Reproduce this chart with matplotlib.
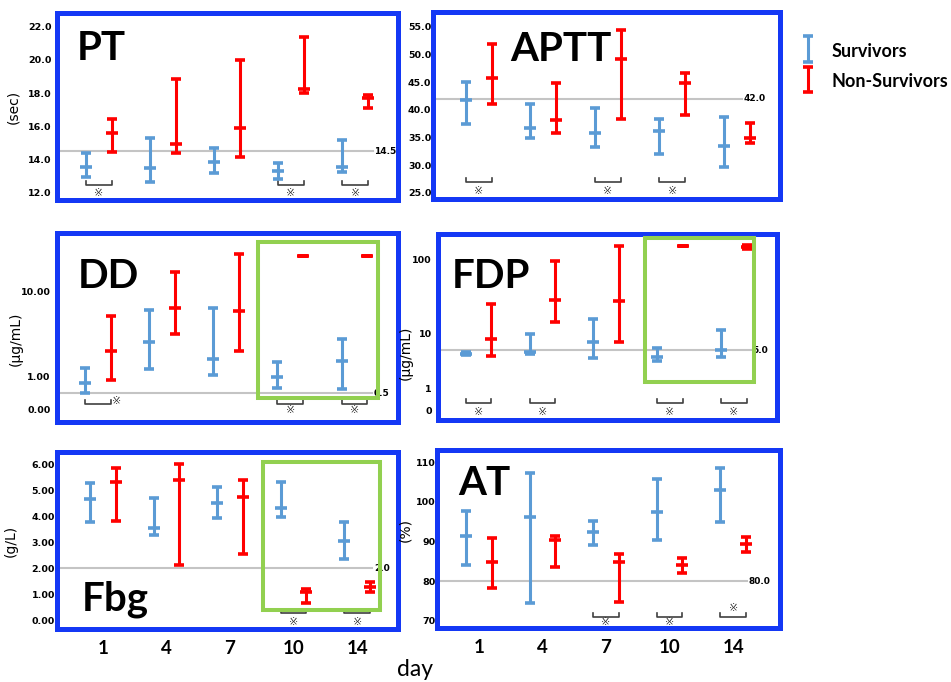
import numpy as np
import matplotlib
matplotlib.use('Agg')
import matplotlib.pyplot as plt
from matplotlib.patches import Rectangle
from matplotlib.container import ErrorbarContainer
from matplotlib.legend_handler import HandlerErrorbar


# ---------------------------------------------------
# DATA  (low, mean, high) per day
# ---------------------------------------------------
DAYS = ['1', '4', '7', '10', '14']

PT_SURV = [(12.96, 13.57, 14.37), (12.66, 13.51, 15.31), (13.17, 13.83, 14.67), (12.81, 13.33, 13.81), (13.27, 13.57, 15.17)]
PT_NS = [(14.45, 15.61, 16.42), (14.41, 14.93, 18.83), (14.13, 15.88, 19.99), (17.99, 18.25, 21.36), (17.08, 17.69, 17.89)]

APTT_SURV = [(37.41, 41.75, 45.06), (34.94, 36.64, 41.03), (33.31, 35.85, 40.25), (32.0, 36.2, 38.26), (29.59, 33.49, 38.74)]
APTT_NS = [(40.98, 45.67, 51.82), (35.73, 38.14, 44.77), (38.32, 49.16, 54.53), (39.04, 44.77, 46.69), (33.93, 34.94, 37.65)]

DD_SURV = [(0.51, 0.81, 1.29), (1.23, 2.56, 6.14), (1.06, 1.62, 6.43), (0.66, 1.0, 1.51), (0.64, 1.56, 2.8)]
DD_NS = [(0.91, 2.02, 5.26), (3.2, 6.53, 17.3), (2.02, 6.03, 27.8), (26.7, 26.7, 26.7), (26.7, 26.7, 26.7)]

FDP_SURV = [(4.0, 4.3, 4.6), (4.2, 4.6, 9.7), (3.6, 6.86, 15.5), (3.13, 3.66, 5.34), (3.66, 4.97, 11.1)]
FDP_NS = [(3.9, 7.78, 24.9), (14.1, 28.2, 94.8), (6.86, 27.6, 152.8), (152.8, 152.8, 152.8), (140.0, 148.0, 156.0)]

FBG_SURV = [(3.79, 4.66, 5.26), (3.28, 3.56, 4.69), (3.92, 4.52, 5.13), (3.98, 4.30, 5.32), (2.36, 3.05, 3.79)]
FBG_NS = [(3.83, 5.32, 5.86), (2.13, 5.39, 5.99), (2.54, 4.72, 5.39), (0.66, 1.11, 1.2), (1.11, 1.30, 1.49)]

AT_SURV = [(84.1, 91.5, 97.6), (74.5, 96.3, 107.2), (89.2, 92.35, 95.2), (90.4, 97.55, 105.7), (95.0, 103.0, 108.5)]
AT_NS = [(78.4, 84.8, 90.8), (83.7, 90.4, 91.5), (74.9, 84.95, 86.9), (82.0, 84.1, 85.8), (87.3, 89.3, 91.1)]

PT_YTICKS = [12, 14, 16, 18, 20, 22]
APTT_YTICKS = [25, 30, 35, 40, 45, 50, 55]
DD_YTICKS = [0, 1, 10]
DD_YLABELS = ['0.00', '1.00', '10.00']
FDP_YTICKS = [0, 1, 10, 100]
FDP_YLABELS = ['0', '1', '10', '100']
FBG_YTICKS = [0, 1, 2, 3, 4, 5, 6]
AT_YTICKS = [70, 80, 90, 100, 110]

# ---------------------------------------------------
# STYLE / LAYOUT
# ---------------------------------------------------
W, H = 951, 682
BLUE_FRAME = '#1438f5'
SURV_COLOR = '#5b9bd5'
NS_COLOR = '#ff0000'
GREEN = '#92d050'
REF_GREY = '#c4c4c4'
TICK_FONT = dict(family='DejaVu Sans', fontweight='bold', fontsize=6.8)
STAR_FAMILY = ['DejaVu Sans', 'Noto Sans CJK JP']


def fx(px):
    return px / W


def fy(px):
    return 1 - px / H


def make_scale(lin_px, dec_px):
    # 0..1 linear, then every decade with its own length (as the original axis)
    u_k = [-10.0, 0.0, 1.0]
    p_k = [-10.0 * lin_px, 0.0, lin_px]
    for d in dec_px:
        u_k.append(u_k[-1] + 1)
        p_k.append(p_k[-1] + d)
    u_k.append(u_k[-1] + 10)
    p_k.append(p_k[-1] + 10 * dec_px[-1])
    u_k, p_k = np.array(u_k), np.array(p_k)

    def forward(v):
        v = np.asarray(v, dtype=float)
        u = np.where(v <= 1, v, 1 + np.log10(np.maximum(v, 1)))
        return np.interp(u, u_k, p_k)

    def inverse(p):
        u = np.interp(np.asarray(p, dtype=float), p_k, u_k)
        return np.where(u <= 1, u, 10 ** (np.minimum(u, 12) - 1))

    return forward, inverse


PANELS = [
    dict(name='PT', surv=PT_SURV, ns=PT_NS, box=(57, 13, 398, 200), xlim=(-0.651, 4.667),
         ylim=(11.56, 22.83), yticks=PT_YTICKS, ylabels=['%.1f' % t for t in PT_YTICKS], ypad=4,
         ref=14.5, ref_label='14.5', ref_end=0.927, ylabel='(sec)', ylabel_xy=(-0.108, 0.5),
         title_xy=(77, 60), brackets=[0, 3, 4], bracket_y=0.08,
         stars=[(0, 0, 0.037), (3, 0, 0.037), (4, 0, 0.037)], xlabels=False),
    dict(name='APTT', surv=APTT_SURV, ns=APTT_NS, box=(433.4, 12, 779.5, 199), xlim=(-0.707, 4.665),
         ylim=(23.86, 57.7), yticks=APTT_YTICKS, ylabels=['%.1f' % t for t in APTT_YTICKS], ypad=1.5,
         ref=42.0, ref_label='42.0', ref_end=0.893, ylabel=None, ylabel_xy=None,
         title_xy=(510, 61), brackets=[0, 2, 3], bracket_y=0.089,
         stars=[(0, 0, 0.044), (2, 0, 0.044), (3, 0, 0.044)], xlabels=False),
    dict(name='DD', surv=DD_SURV, ns=DD_NS, box=(57, 233, 398, 422), xlim=(-0.634, 4.68),
         ylim=(-0.364, 49.4), yticks=DD_YTICKS, ylabels=DD_YLABELS, ypad=4.5, scale=(33, [85]),
         ref=0.5, ref_label='0.5', ref_end=0.925, ylabel='(μg/mL)', ylabel_xy=(-0.1, 0.44),
         title_xy=(78, 288), brackets=[0, 3, 4], bracket_y=0.095,
         stars=[(0, 0.30, 0.111), (3, 0, 0.063), (4, 0, 0.063)], xlabels=False),
    dict(name='FDP', surv=FDP_SURV, ns=FDP_NS, box=(437.5, 233.5, 776.7, 420), xlim=(-0.641, 4.669),
         ylim=(-0.46, 226), yticks=FDP_YTICKS, ylabels=FDP_YLABELS, ypad=4, scale=(21.7, [55, 74]),
         ref=5.0, ref_label='5.0', ref_end=0.925, ylabel='(μg/mL)', ylabel_xy=(-0.073, 0.36),
         title_xy=(452, 288), brackets=[0, 1, 3, 4], bracket_y=0.093,
         stars=[(0, 0, 0.043), (1, 0, 0.043), (3, 0, 0.043), (4, 0, 0.043)], xlabels=False),
    dict(name='Fbg', surv=FBG_SURV, ns=FBG_NS, box=(57, 452, 398, 629), xlim=(-0.721, 4.642),
         ylim=(-0.32, 6.46), yticks=FBG_YTICKS, ylabels=['%.2f' % t for t in FBG_YTICKS], ypad=1.5,
         ref=2.0, ref_label='2.0', ref_end=0.925, ylabel='(g/L)', ylabel_xy=(-0.114, 0.5),
         title_xy=(82, 610), brackets=[3, 4], bracket_y=0.09,
         stars=[(3, 0, 0.04), (4, 0, 0.04)], xlabels=True),
    dict(name='AT', surv=AT_SURV, ns=AT_NS, box=(436.7, 450, 780, 628), xlim=(-0.663, 4.737),
         ylim=(68.23, 113.1), yticks=AT_YTICKS, ylabels=[str(t) for t in AT_YTICKS], ypad=0.8,
         ref=80.0, ref_label='80.0', ref_end=0.904, ylabel='(%)', ylabel_xy=(-0.07, 0.55),
         title_xy=(458, 495), brackets=[2, 3, 4], bracket_y=0.064,
         stars=[(2, 0, 0.034), (3, 0, 0.034), (4, 0, 0.112)], xlabels=True),
]

GREEN_BOXES = [(258, 242, 378, 398), (645, 238, 754, 382), (263, 462, 380, 610)]


def draw_panel(fig, p):
    x0, y0, x1, y1 = p['box']
    ax = fig.add_axes([fx(x0), fy(y1), (x1 - x0) / W, (y1 - y0) / H])
    if 'scale' in p:
        ax.set_yscale('function', functions=make_scale(*p['scale']))

    x = np.arange(len(DAYS))
    handles = []
    for vals, off, color, label in ((p['surv'], -0.2, SURV_COLOR, 'Survivors'),
                                    (p['ns'], 0.2, NS_COLOR, 'Non-Survivors')):
        lo, mid, hi = np.array(vals).T
        eb = ax.errorbar(x + off, mid, yerr=[mid - lo, hi - mid], fmt='none', ecolor=color,
                         elinewidth=2.2, capsize=3.3, capthick=2.6, zorder=3, label=label)
        ax.plot(x + off, mid, ls='none', marker='_', ms=8, mew=2.6, color=color, zorder=4)
        handles.append(eb)

    # reference line
    ax.axhline(p['ref'], xmin=0, xmax=p['ref_end'], color=REF_GREY, lw=1.5, zorder=1)
    ax.text(p['ref_end'] + 0.004, p['ref'], p['ref_label'], transform=ax.get_yaxis_transform(),
            ha='left', va='center', fontsize=6.5, fontweight='bold')

    # significance brackets
    trans = ax.get_xaxis_transform()
    by = p['bracket_y']
    for d in p['brackets']:
        ax.plot([d - 0.2, d - 0.2, d + 0.2, d + 0.2], [by + 0.022, by, by, by + 0.022],
                color='#404040', lw=1.2, transform=trans, clip_on=False, zorder=2)
    for d, dx, sy in p['stars']:
        ax.text(d + dx, sy, '※', transform=trans, ha='center', va='center', fontsize=8,
                family=STAR_FAMILY, color='#333333')

    ax.set_xlim(*p['xlim'])
    ax.set_ylim(*p['ylim'])
    ax.set_yticks(p['yticks'])
    ax.set_yticklabels(p['ylabels'], **TICK_FONT)
    ax.yaxis.set_minor_locator(matplotlib.ticker.NullLocator())
    ax.tick_params(axis='y', length=0, pad=p['ypad'])
    if p['xlabels']:
        ax.set_xticks(x)
        ax.set_xticklabels(DAYS, family='Lato', fontweight='bold', fontsize=13.5)
        ax.tick_params(axis='x', length=0, pad=8)
    else:
        ax.set_xticks([])

    for sp in ax.spines.values():
        sp.set_color(BLUE_FRAME)
        sp.set_linewidth(3.6)
        sp.set_zorder(5)

    if p['ylabel']:
        ax.set_ylabel(p['ylabel'], fontsize=10)
        ax.yaxis.set_label_coords(*p['ylabel_xy'])

    fig.text(fx(p['title_xy'][0]), fy(p['title_xy'][1]), p['name'], family='Lato',
             fontweight='bold', fontsize=29, ha='left', va='baseline')
    return handles


def main():
    fig = plt.figure(figsize=(W / 100, H / 100), dpi=100)

    handles = None
    for p in PANELS:
        h = draw_panel(fig, p)
        if handles is None:
            handles = h

    for bx0, by0, bx1, by1 in GREEN_BOXES:
        fig.add_artist(Rectangle((fx(bx0), fy(by1)), (bx1 - bx0) / W, (by1 - by0) / H,
                                 transform=fig.transFigure, fill=False, ec=GREEN, lw=2.9, zorder=10))

    fig.legend(handles, ['Survivors', 'Non-Survivors'], loc='center left',
               bbox_to_anchor=(fx(799), fy(66)), frameon=False,
               prop=dict(family='Lato', weight='bold', size=13),
               handlelength=1.0, handleheight=1.3, handletextpad=0.8, labelspacing=0.59,
               borderpad=0, borderaxespad=0,
               handler_map={ErrorbarContainer: HandlerErrorbar(yerr_size=0.7)})

    fig.text(fx(415), fy(676), 'day', family='Lato', fontsize=16.5, ha='center', va='baseline')

    fig.savefig('out.png', dpi=100)


if __name__ == '__main__':
    main()
